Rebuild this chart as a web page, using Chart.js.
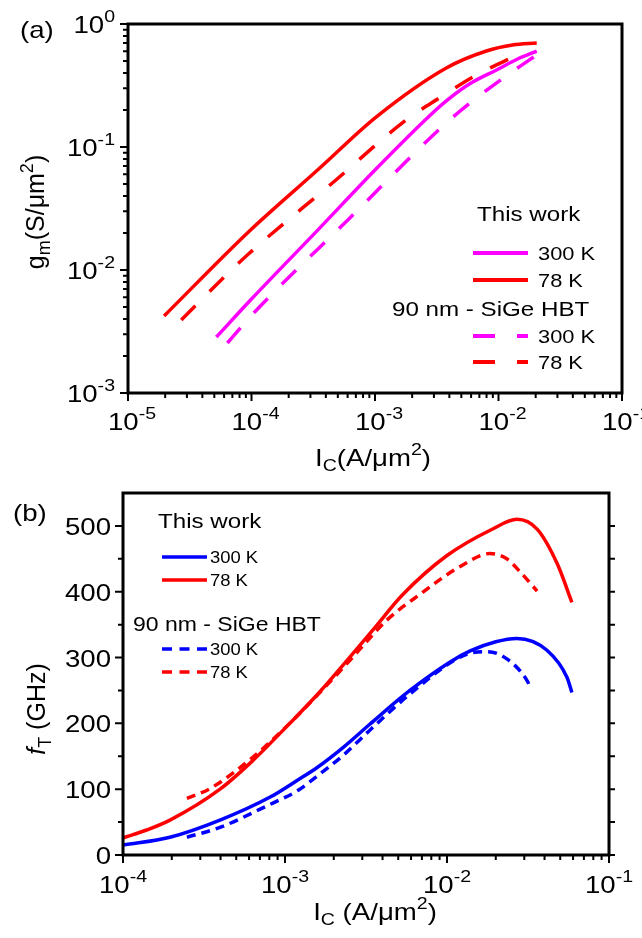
<!DOCTYPE html>
<html>
<head>
<meta charset="utf-8">
<script src="https://cdn.jsdelivr.net/npm/chart.js@4"></script>
<style>
  body { margin: 0; background: #fff; }
  #wrapA { position: absolute; left: 0; top: 0; width: 642px; height: 480px; }
  #wrapB { position: absolute; left: 0; top: 450px; width: 642px; height: 488px; }
</style>
</head>
<body>
<div id="wrapA"><canvas id="gmChart" width="642" height="480"></canvas></div>
<div id="wrapB"><canvas id="ftChart" width="642" height="488"></canvas></div>
<script>
// ---- (a) gm vs IC (log-log) ----
var ic300 = [5.19e-5, 1e-4, 3.5e-4, 1e-3, 2.6e-3, 3.78e-3, 5.81e-3, 9.63e-3, 1.48e-2, 2.04e-2];
var gm300 = [0.00285, 0.00581, 0.0215, 0.065, 0.169, 0.237, 0.325, 0.423, 0.529, 0.603];
var ic78 = [1.96e-5, 9.45e-5, 3.5e-4, 1.02e-3, 3.78e-3, 7.98e-3, 1.3e-2, 2.04e-2];
var gm78 = [0.00423, 0.0204, 0.0662, 0.175, 0.439, 0.603, 0.675, 0.70];
var icRef300 = [6.38e-5, 1.08e-4, 6.14e-4, 3.78e-3, 6.62e-3, 1.28e-2, 2.04e-2];
var gmRef300 = [0.00255, 0.00464, 0.026, 0.157, 0.25, 0.407, 0.56];
var icRef78 = [2.7e-5, 6.14e-5, 9.45e-5, 4.47e-4, 1.79e-3, 3.31e-3, 6.62e-3, 1.48e-2];
var gmRef78 = [0.00392, 0.00894, 0.0135, 0.0505, 0.166, 0.25, 0.385, 0.57];

// ---- (b) fT vs IC (semilog) ----
var icB300 = [1e-4, 1.95e-4, 3.97e-4, 8.1e-4, 1.2e-3, 1.58e-3, 2.3e-3, 3.35e-3, 5.9e-3, 1.04e-2, 1.39e-2, 2e-2, 2.7e-2, 4.14e-2, 5.5e-2, 5.9e-2];
var ft300 = [15, 27, 53, 88, 114, 133, 164, 199, 250, 293, 310, 324, 329, 311, 270, 247];
var icB78 = [1e-4, 1.4e-4, 1.95e-4, 3.97e-4, 6.3e-4, 1.07e-3, 1.6e-3, 2.5e-3, 3.6e-3, 5.3e-3, 1e-2, 1.9e-2, 2.7e-2, 3.6e-2, 4.8e-2, 5.9e-2];
var ft78 = [26, 38, 53, 100, 143, 200, 245, 300, 346, 395, 455, 495, 510, 495, 442, 384];
var icBRef300 = [2.48e-4, 3.97e-4, 8.1e-4, 1.2e-3, 1.58e-3, 2.3e-3, 3.35e-3, 6e-3, 1.26e-2, 1.76e-2, 2.34e-2, 3.12e-2, 3.3e-2];
var ftRef300 = [27, 42, 77, 98, 120, 152, 190, 246, 303, 309, 298, 265, 252];
var icBRef78 = [2.48e-4, 3.45e-4, 6.3e-4, 1.07e-3, 1.6e-3, 2.5e-3, 3.35e-3, 4.3e-3, 6.8e-3, 1.2e-2, 1.84e-2, 2.34e-2, 2.83e-2, 3.6e-2];
var ftRef78 = [86, 101, 148, 200, 244, 295, 330, 358, 396, 438, 458, 450, 430, 401];

// tick labels
var xExpA = [-5, -4, -3, -2, -1];
var yExpA = [-3, -2, -1, 0];
var xExpB = [-4, -3, -2, -1];
var yTicksB = [0, 100, 200, 300, 400, 500];

var FONT = '"Liberation Sans", Arial, sans-serif';
var SX = 1.15; // text in the figure is a bit wide

function pts(xs, ys) {
  return xs.map(function (x, i) { return {x: x, y: ys[i]}; });
}

function fontOf(r, size, small) {
  return (r.it ? 'italic ' : '') + ((r.sub || r.sup) ? small : size) + 'px ' + FONT;
}

function drawRuns(ctx, runs, x, y, size, align, rotate) {
  var small = Math.round(size * 0.7);
  ctx.save();
  ctx.translate(x, y);
  if (rotate) ctx.rotate(-Math.PI / 2);
  else ctx.scale(SX, 1);
  ctx.fillStyle = '#000';
  ctx.textAlign = 'left';
  ctx.textBaseline = 'alphabetic';
  var w = 0;
  runs.forEach(function (r) {
    ctx.font = fontOf(r, size, small);
    r.w = ctx.measureText(r.t).width;
    w += r.w;
  });
  var cx = align === 'center' ? -w / 2 : (align === 'right' ? -w : 0);
  runs.forEach(function (r) {
    ctx.font = fontOf(r, size, small);
    var dy = r.sup ? -size * 0.45 : (r.sub ? size * 0.22 : 0);
    ctx.fillText(r.t, cx, dy);
    cx += r.w;
  });
  ctx.restore();
}

function pow10(e) {
  return [{t: '10'}, {t: String(e), sup: true}];
}

function minorDecades(lo, hi) {
  var out = [];
  for (var e = lo; e < hi; e++) {
    for (var k = 2; k <= 9; k++) out.push(k * Math.pow(10, e));
  }
  return out;
}

function tickLines(ctx, scale, vals, len, base, dir) {
  ctx.beginPath();
  vals.forEach(function (v) {
    var p = scale.getPixelForValue(v);
    if (dir === 'down') { ctx.moveTo(p, base); ctx.lineTo(p, base + len); }
    else if (dir === 'left') { ctx.moveTo(base, p); ctx.lineTo(base - len, p); }
    else { ctx.moveTo(base, p); ctx.lineTo(base + len, p); }
  });
  ctx.stroke();
}

function legendRow(ctx, x1, x2, y, color, dash, width, label, tx, size) {
  ctx.save();
  ctx.strokeStyle = color;
  ctx.lineWidth = width;
  ctx.setLineDash(dash);
  ctx.beginPath();
  ctx.moveTo(x1, y);
  ctx.lineTo(x2, y);
  ctx.stroke();
  ctx.restore();
  drawRuns(ctx, [{t: label}], tx, y + size * 0.36, size, 'left');
}

function ds(label, xs, ys, color, dash, width) {
  return {
    label: label,
    data: pts(xs, ys),
    borderColor: color,
    borderWidth: width,
    borderDash: dash,
    pointRadius: 0,
    fill: false,
    cubicInterpolationMode: 'monotone'
  };
}

var dashA = [20, 20];
var dashB = [9, 6];

var decorA = {
  id: 'decorA',
  afterDraw: function (chart) {
    var ctx = chart.ctx, a = chart.chartArea;
    var xs = chart.scales.x, ys = chart.scales.y;
    ctx.save();
    ctx.strokeStyle = '#000';
    ctx.lineWidth = 2;
    tickLines(ctx, xs, xExpA.map(function (e) { return Math.pow(10, e); }), 8, a.bottom, 'down');
    tickLines(ctx, xs, minorDecades(-5, -1), 5, a.bottom, 'down');
    tickLines(ctx, ys, yExpA.map(function (e) { return Math.pow(10, e); }), 8, a.left, 'left');
    tickLines(ctx, ys, minorDecades(-3, 0), 5, a.left, 'left');
    ctx.lineWidth = 3;
    ctx.strokeRect(a.left, a.top, a.right - a.left, a.bottom - a.top);
    ctx.restore();

    xExpA.forEach(function (e) {
      drawRuns(ctx, pow10(e), xs.getPixelForValue(Math.pow(10, e)) + 4, 430, 24, 'center');
    });
    yExpA.forEach(function (e) {
      drawRuns(ctx, pow10(e), 115, ys.getPixelForValue(Math.pow(10, e)) + 9, 24, 'right');
    });

    drawRuns(ctx, [{t: '(a)'}], 20, 38, 24, 'left');
    drawRuns(ctx, [{t: 'I'}, {t: 'C', sub: true}, {t: '(A/\u03bcm'}, {t: '2', sup: true}, {t: ')'}], 373, 466, 24, 'center');
    drawRuns(ctx, [{t: 'g'}, {t: 'm', sub: true}, {t: '(S/\u03bcm'}, {t: '2', sup: true}, {t: ')'}], 44, 212, 25, 'center', true);

    drawRuns(ctx, [{t: 'This work'}], 477, 221, 21, 'left');
    legendRow(ctx, 473, 528, 253, '#ff00ff', [], 4, '300 K', 538, 19);
    legendRow(ctx, 473, 528, 280, '#ff0000', [], 4, '78 K', 538, 19);
    drawRuns(ctx, [{t: '90 nm - SiGe HBT'}], 392, 316, 21, 'left');
    legendRow(ctx, 473, 528, 336, '#ff00ff', [22, 22], 4, '300 K', 538, 19);
    legendRow(ctx, 473, 528, 362, '#ff0000', [22, 22], 4, '78 K', 538, 19);
  }
};

var decorB = {
  id: 'decorB',
  afterDraw: function (chart) {
    var ctx = chart.ctx, a = chart.chartArea;
    var xs = chart.scales.x, ys = chart.scales.y;
    var halves = [50, 150, 250, 350, 450];
    ctx.save();
    ctx.strokeStyle = '#000';
    ctx.lineWidth = 2;
    tickLines(ctx, xs, xExpB.map(function (e) { return Math.pow(10, e); }), 8, a.bottom, 'down');
    tickLines(ctx, xs, minorDecades(-4, -1), 5, a.bottom, 'down');
    tickLines(ctx, ys, yTicksB, 8, a.left, 'left');
    tickLines(ctx, ys, halves, 5, a.left, 'left');
    tickLines(ctx, ys, yTicksB.concat(halves), 6, a.right, 'right');
    ctx.lineWidth = 3;
    ctx.strokeRect(a.left, a.top, a.right - a.left, a.bottom - a.top);
    ctx.restore();

    xExpB.forEach(function (e) {
      drawRuns(ctx, pow10(e), xs.getPixelForValue(Math.pow(10, e)), 443, 24, 'center');
    });
    yTicksB.forEach(function (v) {
      drawRuns(ctx, [{t: String(v)}], 111, ys.getPixelForValue(v) + 9, 24, 'right');
    });

    drawRuns(ctx, [{t: '(b)'}], 13, 71, 24, 'left');
    drawRuns(ctx, [{t: 'I'}, {t: 'C', sub: true}, {t: ' (A/\u03bcm'}, {t: '2', sup: true}, {t: ')'}], 375, 470, 24, 'center');
    drawRuns(ctx, [{t: 'f', it: true}, {t: 'T', sub: true}, {t: ' (GHz)'}], 45, 259, 25, 'center', true);

    drawRuns(ctx, [{t: 'This work'}], 158, 78, 21, 'left');
    legendRow(ctx, 162, 207, 107, '#0000ff', [], 3.5, '300 K', 210, 16);
    legendRow(ctx, 162, 207, 130, '#ff0000', [], 3.5, '78 K', 210, 16);
    drawRuns(ctx, [{t: '90 nm - SiGe HBT'}], 133, 181, 20, 'left');
    legendRow(ctx, 162, 207, 199, '#0000ff', [10, 7.5], 3.5, '300 K', 210, 16);
    legendRow(ctx, 162, 207, 222, '#ff0000', [10, 7.5], 3.5, '78 K', 210, 16);
  }
};

var configA = {
  type: 'line',
  data: {
    datasets: [
      ds('This work 300 K', ic300, gm300, '#ff00ff', [], 3.5),
      ds('This work 78 K', ic78, gm78, '#ff0000', [], 3.5),
      ds('90 nm SiGe HBT 300 K', icRef300, gmRef300, '#ff00ff', dashA, 3.5),
      ds('90 nm SiGe HBT 78 K', icRef78, gmRef78, '#ff0000', dashA, 3.5)
    ]
  },
  options: {
    responsive: false,
    animation: false,
    layout: {padding: {left: 128, top: 24, right: 20, bottom: 87}},
    plugins: {legend: {display: false}, tooltip: {enabled: false}},
    scales: {
      x: {type: 'logarithmic', min: 1e-5, max: 1e-1, display: false},
      y: {type: 'logarithmic', min: 1e-3, max: 1, display: false}
    }
  },
  plugins: [decorA]
};

var configB = {
  type: 'line',
  data: {
    datasets: [
      ds('This work 300 K', icB300, ft300, '#0000ff', [], 3.5),
      ds('This work 78 K', icB78, ft78, '#ff0000', [], 3.5),
      ds('90 nm SiGe HBT 300 K', icBRef300, ftRef300, '#0000ff', dashB, 3.5),
      ds('90 nm SiGe HBT 78 K', icBRef78, ftRef78, '#ff0000', dashB, 3.5)
    ]
  },
  options: {
    responsive: false,
    animation: false,
    layout: {padding: {left: 123, top: 43, right: 33, bottom: 83}},
    plugins: {legend: {display: false}, tooltip: {enabled: false}},
    scales: {
      x: {type: 'logarithmic', min: 1e-4, max: 1e-1, display: false},
      y: {type: 'linear', min: 0, max: 550, display: false}
    }
  },
  plugins: [decorB]
};

var gmChart = new Chart(document.getElementById('gmChart'), configA);
var ftChart = new Chart(document.getElementById('ftChart'), configB);
</script>
</body>
</html>
